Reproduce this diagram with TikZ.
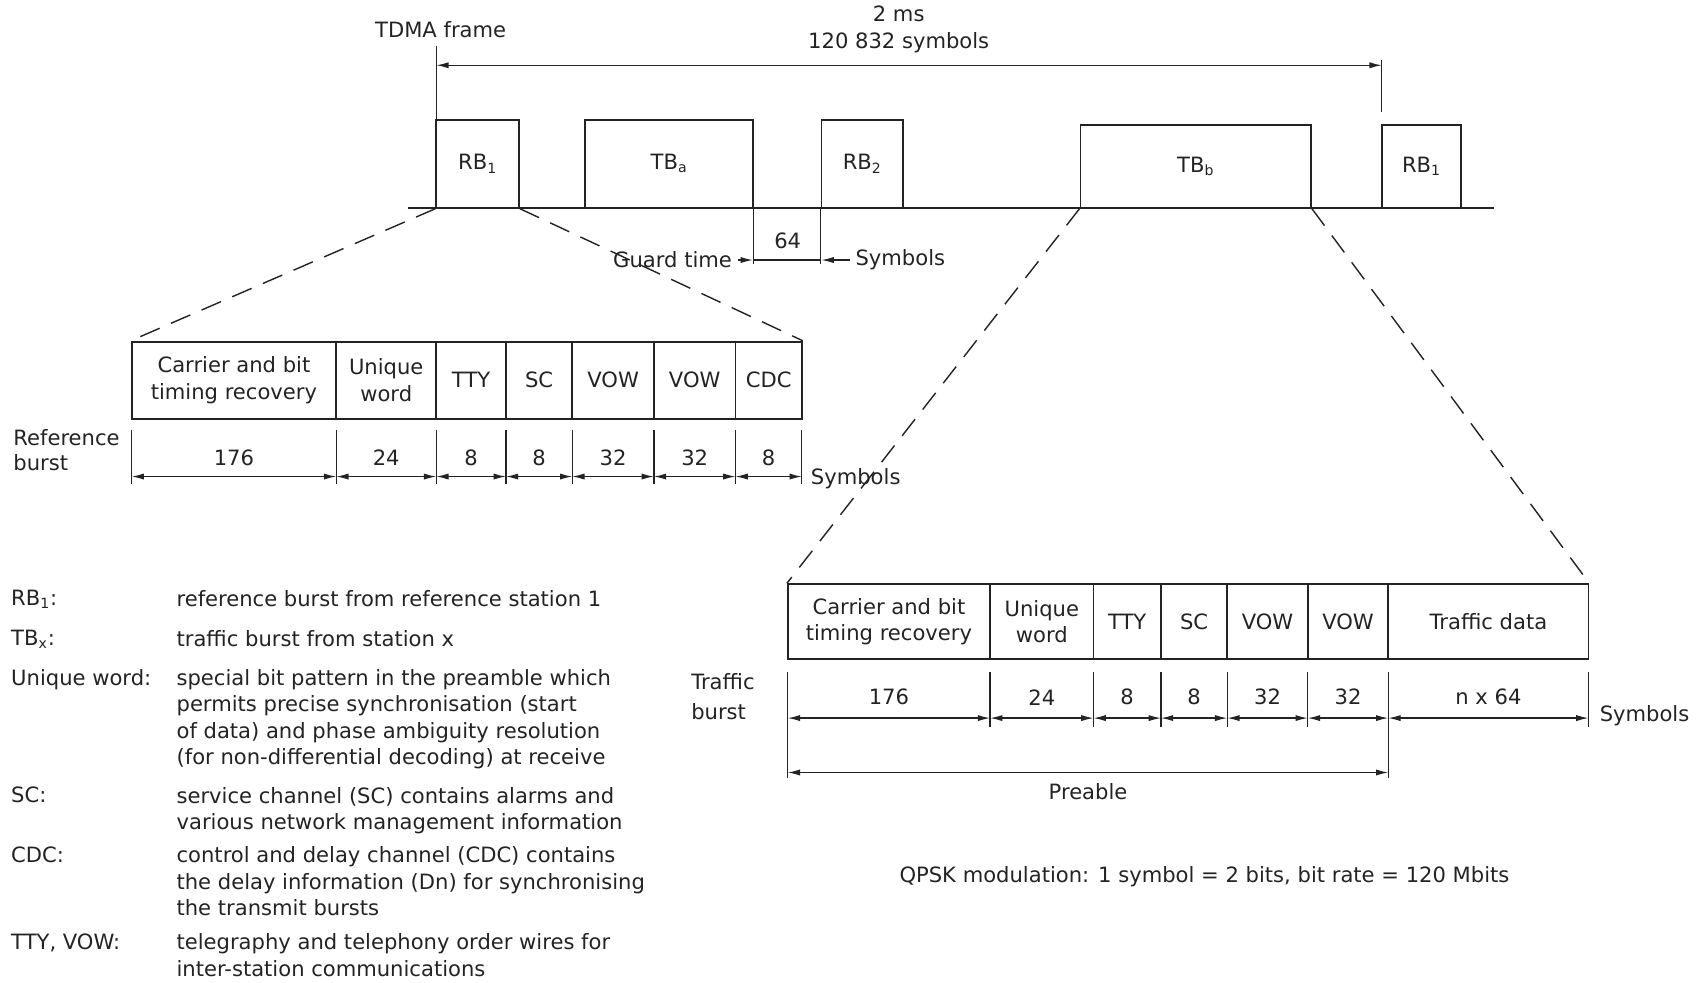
\documentclass[tikz,border=0pt]{standalone}
\usepackage{fontspec}
\setmainfont{DejaVu Sans}
\usetikzlibrary{arrows.meta, positioning}
\usepackage{xcolor}
\definecolor{ink}{RGB}{35,35,35}
\newcommand{\pu}{0.02176cm}
\tikzset{
    wh/.style 2 args={minimum width=#1*\pu, minimum height=#2*\pu},
    burst/.style={draw=ink, line width=1pt, inner sep=0pt, align=center, text=ink},
    cell/.style={draw=ink, line width=1pt, inner sep=0pt, align=center, text=ink},
    dim/.style={{Latex[length=7pt,width=3.5pt]}-{Latex[length=7pt,width=3.5pt]}, draw=ink, line width=0.7pt},
    arr/.style={-{Latex[length=7pt,width=3.5pt]}, draw=ink, line width=0.7pt},
    dimtick/.style={draw=ink, line width=0.7pt},
    zoomline/.style={draw=ink, line width=0.8pt, dash pattern=on 12pt off 7pt},
    txt/.style={inner sep=0pt, text=ink, align=left}
}

\begin{document}
\begin{tikzpicture}[x=\pu, y=-\pu, font=\fontsize{12}{15}\selectfont]
    \useasboundingbox (0,0) rectangle (1568,903);

    % TDMA frame
    \node[txt] (tdma) at (405,27) {TDMA frame};
    \node[txt, align=center] (frame) at (826,27) {2 ms\\120 832 symbols};
    \draw[dimtick] (401,42) -- (401,191);
    \draw[dimtick] (1270,55) -- (1270,103);
    \coordinate (f0) at (401,60);
    \coordinate (f1) at (1270,60);
    \draw[dim] (f0) -- (f1);

    \draw[ink, line width=1pt] (375,191) coordinate (base0) -- (1373,191) coordinate (base1);
    \node[burst, wh={76}{81}] (rb1) at (439,150.5) {RB\textsubscript{1}};
    \node[burst, wh={154}{81}] (tba) at (615,150.5) {TB\textsubscript{a}};
    \node[burst, wh={75}{81}] (rb2) at (792.5,150.5) {RB\textsubscript{2}};
    \node[burst, wh={212}{76}] (tbb) at (1099,153) {TB\textsubscript{b}};
    \node[burst, wh={73}{76}] (rb1b) at (1306.5,153) {RB\textsubscript{1}};

    % guard time
    \draw[dimtick] (tba.south east) -- ++(0,51);
    \draw[dimtick] (rb2.south west) -- ++(0,51);
    \coordinate (g0) at (692,239);
    \coordinate (g1) at (755,239);
    \node[txt] (g64) at (724,221) {64};
    \node[txt, anchor=east] (guard) at (673,239) {Guard time};
    \node[txt, anchor=west] (gsym) at (786,239) {Symbols};
    \draw[arr, shorten <=3pt] (guard) -- (g0);
    \draw[dimtick] (g0) -- (g1);
    \draw[arr, shorten <=3pt] (gsym) -- (g1);

    % reference burst
    \node[cell, wh={188}{71}] (rcar) at (215,349.5) {Carrier and bit\\timing recovery};
    \node[cell, wh={92}{71}] (ruw) at (355,349.5) {Unique\\word};
    \node[cell, wh={64}{71}] (rtty) at (433,349.5) {TTY};
    \node[cell, wh={61}{71}] (rsc) at (495.5,349.5) {SC};
    \node[cell, wh={75}{71}] (rvow1) at (563.5,349.5) {VOW};
    \node[cell, wh={75}{71}] (rvow2) at (638.5,349.5) {VOW};
    \node[cell, wh={61}{71}] (rcdc) at (706.5,349.5) {CDC};

    \foreach \x [count=\i] in {121,309,401,465,526,601,676,737} {
        \draw[dimtick] (\x,395) -- (\x,445);
        \coordinate (ra\i) at (\x,438);
    }
    \foreach \a/\b/\n in {1/2/176, 2/3/24, 3/4/8, 4/5/8, 5/6/32, 6/7/32, 7/8/8}
        \draw[dim] (ra\a) -- node[txt, above=6pt] {\n} (ra\b);

    \node[txt, anchor=west] (refb) at (12,414) {Reference\\[-1pt]burst};
    \node[txt, anchor=west] (rsym) at (745,440) {Symbols};

    % traffic burst
    \node[cell, wh={186}{69}] (tcar) at (817,571.5) {Carrier and bit\\timing recovery};
    \node[cell, wh={95}{69}] (tuw) at (957.5,571.5) {Unique\\word};
    \node[cell, wh={62}{69}] (ttty) at (1036,571.5) {TTY};
    \node[cell, wh={61}{69}] (tsc) at (1097.5,571.5) {SC};
    \node[cell, wh={74}{69}] (tvow1) at (1165,571.5) {VOW};
    \node[cell, wh={74}{69}] (tvow2) at (1239,571.5) {VOW};
    \node[cell, wh={184}{69}] (tdata) at (1368,571.5) {Traffic data};

    \foreach \x [count=\i] in {724,910,1005,1067,1128,1202,1276,1460} {
        \draw[dimtick] (\x,618) -- (\x,668);
        \coordinate (ta\i) at (\x,660);
    }
    \foreach \a/\b/\n in {1/2/176, 2/3/24, 3/4/8, 4/5/8, 5/6/32, 6/7/32, 7/8/n x 64}
        \draw[dim] (ta\a) -- node[txt, above=7pt] {\n} (ta\b);

    \draw[dimtick] (724,668) -- (724,715);
    \draw[dimtick] (1276,668) -- (1276,715);
    \coordinate (pa0) at (724,710);
    \coordinate (pa1) at (1276,710);
    \draw[dim] (pa0) -- node[txt, below=6pt] {Preable} (pa1);

    \node[txt, anchor=west] (trb) at (635,640) {Traffic\\[2pt]burst};
    \node[txt, anchor=west] (tsym) at (1470,658) {Symbols};

    % zoom lines
    \draw[zoomline] (rb1.south west) -- (rcar.north west);
    \draw[zoomline] (rb1.south east) -- (rcdc.north east);
    \draw[zoomline] (tbb.south west) -- (tcar.north west);
    \draw[zoomline] (tbb.south east) -- (tdata.north east);

    % legend
    \node[txt, anchor=north west] (lrb) at (10,542) {RB\textsubscript{1}:};
    \node[txt, anchor=north west] (drb) at (162,542) {reference burst from reference station 1};
    \node[txt, anchor=north west] (ltb) at (10,579) {TB\textsubscript{x}:};
    \node[txt, anchor=north west] (dtb) at (162,579) {traffic burst from station x};
    \node[txt, anchor=north west] (luw) at (10,615) {Unique word:};
    \node[txt, anchor=north west] (duw) at (162,615) {special bit pattern in the preamble which\\permits precise synchronisation (start\\of data) and phase ambiguity resolution\\(for non-differential decoding) at receive};
    \node[txt, anchor=north west] (lsc) at (10,723) {SC:};
    \node[txt, anchor=north west] (dsc) at (162,723) {service channel (SC) contains alarms and\\various network management information};
    \node[txt, anchor=north west] (lcdc) at (10,778) {CDC:};
    \node[txt, anchor=north west] (dcdc) at (162,778) {control and delay channel (CDC) contains\\the delay information (Dn) for synchronising\\the transmit bursts};
    \node[txt, anchor=north west] (ltty) at (10,858) {TTY, VOW:};
    \node[txt, anchor=north west] (dtty) at (162,858) {telegraphy and telephony order wires for\\inter-station communications};

    \node[txt] (qpsk) at (1107,806) {QPSK modulation: 1 symbol = 2 bits, bit rate = 120 Mbits};

\end{tikzpicture}
\end{document}
